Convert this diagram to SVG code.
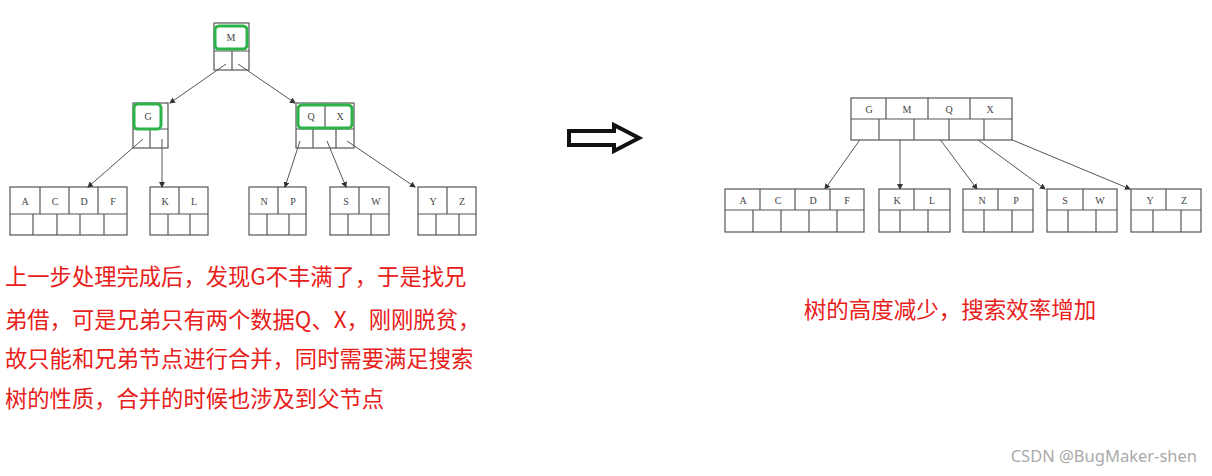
<svg xmlns="http://www.w3.org/2000/svg" width="1212" height="476" viewBox="0 0 1212 476">
<style>
.b{fill:#fff;stroke:#555;stroke-width:1.2}
.l{stroke:#555;stroke-width:1.2;fill:none}
.k{font-family:"Liberation Serif",serif;font-size:10px;fill:#444;text-anchor:middle}
.g{fill:none;stroke:#2db34a;stroke-width:3}
.c{stroke:#555;stroke-width:1;fill:none;marker-end:url(#a)}
.t{font-family:"Noto Sans CJK SC",sans-serif;font-size:22.3px;fill:#e8201a}
</style>
<defs><marker id="a" markerWidth="6" markerHeight="6" refX="5" refY="3" orient="auto"><path d="M0,0L6,3L0,6z" fill="#333"/></marker></defs>
<rect width="1212" height="476" fill="#fff"/>
<g id="nM"><rect class="b" x="214" y="23" width="35" height="47"/><path class="l" d="M214 51H249M232 51V70"/><text class="k" x="231" y="41">M</text><rect class="g" x="215" y="26" width="32" height="23" rx="4"/></g>
<g id="nG"><rect class="b" x="133" y="103" width="35" height="45"/><path class="l" d="M133 129H168M150 129V148"/><text class="k" x="148" y="120">G</text><rect class="g" x="134" y="104" width="27" height="25" rx="4"/></g>
<g id="nQX"><rect class="b" x="296" y="103" width="58" height="45"/><path class="l" d="M296 129H354M325 103V129M313 129V148M336 129V148"/><text class="k" x="311" y="120">Q</text><text class="k" x="340" y="120">X</text><rect class="g" x="298" y="105" width="54" height="23" rx="4"/></g>
<g id="lACDF"><rect class="b" x="10" y="187" width="117" height="48"/><path class="l" d="M10 214H127M40 187V214M69 187V214M98 187V214M33 214V235M57 214V235M80 214V235M104 214V235"/><text class="k" x="25" y="205">A</text><text class="k" x="55" y="205">C</text><text class="k" x="84" y="205">D</text><text class="k" x="113" y="205">F</text></g>
<g id="lKL"><rect class="b" x="150" y="187" width="58" height="48"/><path class="l" d="M150 214H208M179 187V214M168 214V235M190 214V235"/><text class="k" x="165" y="205">K</text><text class="k" x="194" y="205">L</text></g>
<g id="lNP"><rect class="b" x="249" y="187" width="57" height="48"/><path class="l" d="M249 214H306M278 187V214M267 214V235M289 214V235"/><text class="k" x="264" y="205">N</text><text class="k" x="293" y="205">P</text></g>
<g id="lSW"><rect class="b" x="330" y="187" width="59" height="48"/><path class="l" d="M330 214H389M359 187V214M348 214V235M371 214V235"/><text class="k" x="346" y="205">S</text><text class="k" x="376" y="205">W</text></g>
<g id="lYZ"><rect class="b" x="418" y="187" width="58" height="48"/><path class="l" d="M418 214H476M447 187V214M436 214V235M459 214V235"/><text class="k" x="433" y="205">Y</text><text class="k" x="462" y="205">Z</text></g>
<g id="connectors">
<path class="c" d="M226 64L170 103"/><path class="c" d="M238 64L295 103"/>
<path class="c" d="M143 139L88 187"/><path class="c" d="M162 139V187"/>
<path class="c" d="M300 141L285 187"/><path class="c" d="M327 141L346 187"/><path class="c" d="M347 141L415 187"/>
<path class="c" d="M864 134L825 189"/><path class="c" d="M900 133V189"/><path class="c" d="M936 134L977 189"/><path class="c" d="M970 134L1045 189"/><path class="c" d="M998 134L1130 189"/>
</g>
<g id="arrow"><path d="M569 131H614V125L639 138L614 151V145H569Z" fill="#fff" stroke="#111" stroke-width="4" stroke-linejoin="miter"/></g>
<g id="root2"><rect class="b" x="851" y="98" width="161" height="42"/><path class="l" d="M851 119H1012M886 98V119M928 98V119M970 98V119M879 119V140M914 119V140M949 119V140M984 119V140"/><text class="k" x="869" y="113">G</text><text class="k" x="907" y="113">M</text><text class="k" x="949" y="113">Q</text><text class="k" x="990" y="113">X</text></g>
<g id="r-ACDF"><rect class="b" x="725" y="189" width="139" height="43"/><path class="l" d="M725 210H864M760 189V210M795 189V210M830 189V210M753 210V232M781 210V232M809 210V232M837 210V232"/><text class="k" x="743" y="204">A</text><text class="k" x="778" y="204">C</text><text class="k" x="813" y="204">D</text><text class="k" x="847" y="204">F</text></g>
<g id="r-KL"><rect class="b" x="879" y="189" width="71" height="43"/><path class="l" d="M879 210H950M914 189V210M900 210V232M928 210V232"/><text class="k" x="897" y="204">K</text><text class="k" x="932" y="204">L</text></g>
<g id="r-NP"><rect class="b" x="963" y="189" width="70" height="43"/><path class="l" d="M963 210H1033M998 189V210M984 210V232M1012 210V232"/><text class="k" x="982" y="204">N</text><text class="k" x="1016" y="204">P</text></g>
<g id="r-SW"><rect class="b" x="1047" y="189" width="70" height="43"/><path class="l" d="M1047 210H1117M1083 189V210M1068 210V232M1096 210V232"/><text class="k" x="1065" y="204">S</text><text class="k" x="1100" y="204">W</text></g>
<g id="r-YZ"><rect class="b" x="1131" y="189" width="70" height="43"/><path class="l" d="M1131 210H1201M1166 189V210M1153 210V232M1181 210V232"/><text class="k" x="1150" y="204">Y</text><text class="k" x="1184" y="204">Z</text></g>
<text class="t" x="5" y="285">上一步处理完成后，发现G不丰满了，于是找兄</text>
<text class="t" x="5" y="328">弟借，可是兄弟只有两个数据Q、X，刚刚脱贫，</text>
<text class="t" x="5" y="367">故只能和兄弟节点进行合并，同时需要满足搜索</text>
<text class="t" x="5" y="407">树的性质，合并的时候也涉及到父节点</text>
<text class="t" x="950" y="318" text-anchor="middle" style="font-size:22.5px">树的高度减少，搜索效率增加</text>
<text x="1197" y="462" text-anchor="end" font-family="'Noto Sans','Liberation Sans',sans-serif" font-size="16.5" fill="#aaa">CSDN @BugMaker-shen</text>
</svg>
